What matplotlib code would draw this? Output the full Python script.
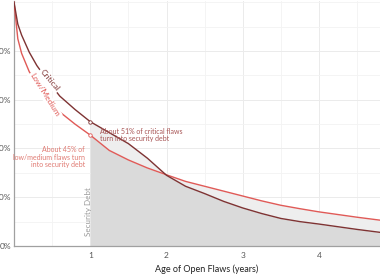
import numpy as np
import matplotlib
matplotlib.use("Agg")
import matplotlib.pyplot as plt
from matplotlib.ticker import MultipleLocator, FuncFormatter

plt.rcParams['font.family'] = ['Lato', 'DejaVu Sans']

years = [0, 0.05, 0.1, 0.2, 0.3, 0.45, 0.6, 0.8, 1.0, 1.25, 1.5, 1.75, 2.0,
         2.25, 2.5, 2.75, 3.0, 3.25, 3.5, 3.75, 4.0, 4.25, 4.5, 4.8]
critical = [100, 91, 86.5, 79.5, 74, 67.5, 61.5, 56, 51, 46.5, 42, 36, 29,
            24.5, 21.5, 18.3, 15.6, 13.3, 11.3, 10.0, 9.0, 7.9, 6.8, 5.6]
low_medium = [100, 85, 79, 71.5, 66.5, 60, 55, 50, 45.5, 39.2, 35.3, 32, 29.2,
              26.5, 24.5, 22.5, 20.5, 18.5, 16.7, 15.3, 14, 12.9, 11.8, 10.6]
x_ticks = [1, 2, 3, 4]
y_ticks = [0, 20, 40, 60, 80]

crit_col = '#7e3333'
low_col = '#e05a57'

x = np.array(years)
c = np.array(critical)
l = np.array(low_medium)

fig = plt.figure(figsize=(3.8, 2.8), dpi=100)
ax = fig.add_axes([14/380, 34/280, 1 - 14/380, 245/280])

# shaded security debt region from year 1
m = x >= 1
lo = np.minimum(c, l)
hi = np.maximum(c, l)
ax.fill_between(x[m], 0, lo[m], color='#dadada', lw=0, zorder=1)
ax.fill_between(x[m], lo[m], hi[m], color='#eeeeee', lw=0, zorder=1)

ax.plot(x, l, color=low_col, lw=1.0, zorder=3)
ax.plot(x, c, color=crit_col, lw=1.0, zorder=3)
ax.plot([1], [critical[years.index(1.0)]], 'o', ms=2.5, mfc='white', mec=crit_col, mew=0.6, zorder=4)
ax.plot([1], [low_medium[years.index(1.0)]], 'o', ms=2.5, mfc='white', mec=low_col, mew=0.6, zorder=4)

ax.set_xlim(0, 4.8)
ax.set_ylim(0, 100.5)
ax.set_xticks(x_ticks)
ax.set_yticks(y_ticks)
ax.xaxis.set_minor_locator(MultipleLocator(0.5))
ax.yaxis.set_minor_locator(MultipleLocator(10))
ax.yaxis.set_major_formatter(FuncFormatter(lambda v, p: f"{int(v)}%"))
ax.grid(which='major', color='#ebebeb', lw=0.7, zorder=0)
ax.grid(which='minor', color='#f3f3f3', lw=0.6, zorder=0)
ax.set_axisbelow(True)
ax.tick_params(which='both', length=0, labelsize=6, colors='#555555')
ax.tick_params(axis='y', pad=2)
ax.tick_params(axis='x', pad=4)
for s in ['top', 'right']:
    ax.spines[s].set_visible(False)
for s in ['left', 'bottom']:
    ax.spines[s].set_color('#a0a0a0')
    ax.spines[s].set_linewidth(0.9)

ax.set_xlabel('Age of Open Flaws (years)', fontsize=6.5, color='#222222')
ax.xaxis.set_label_coords((207 - 14) / 366, -18 / 245)

bb = dict(boxstyle='square,pad=0.15', fc='white', ec='none')
ax.text(0.465, 68, 'Critical', rotation=-50, fontsize=6, color=crit_col,
        ha='center', va='center', rotation_mode='anchor', bbox=bb, zorder=5)
ax.text(0.405, 62, 'Low/Medium', rotation=-58, fontsize=6, color=low_col,
        ha='center', va='center', rotation_mode='anchor', bbox=bb, zorder=5)
ax.text(1.13, 45.5, 'About 51% of critical flaws\nturn into security debt',
        fontsize=5, color='#a85555', ha='left', va='center', linespacing=1.1, zorder=5)
ax.text(0.93, 36.5, 'About 45% of\nlow/medium flaws turn\ninto security debt',
        fontsize=5, color='#e07a72', ha='right', va='center', linespacing=1.1, zorder=5)
ax.text(0.975, 14, 'Security Debt', rotation=90, fontsize=5.8, color='#999999',
        ha='center', va='center', zorder=5)

fig.savefig('out.png', dpi=100)
